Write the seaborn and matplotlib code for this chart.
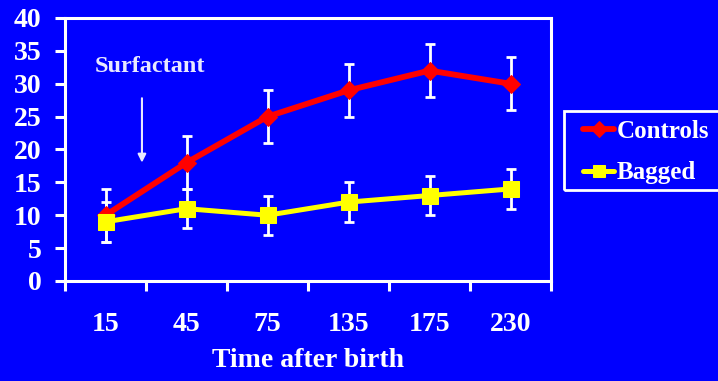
import matplotlib
matplotlib.use("Agg")
import matplotlib.pyplot as plt
from matplotlib.patches import Rectangle
import seaborn as sns
import pandas as pd
import numpy as np

# Data
times = ["15", "45", "75", "135", "175", "230"]
controls = [10, 18, 25, 29, 32, 30]
controls_err = [4, 4, 4, 4, 4, 4]
bagged = [9, 11, 10, 12, 13, 14]
bagged_err = [3, 3, 3, 3, 3, 3]
y_ticks = [0, 5, 10, 15, 20, 25, 30, 35, 40]

BLUE = "#0000ff"
WHITE = "#ffffff"
RED = "#ff0000"
YELLOW = "#ffff00"
PALE = "#e8e8ff"

sns.set_style("ticks")
plt.rcParams["font.family"] = ["Liberation Serif", "DejaVu Serif"]
plt.rcParams["font.weight"] = "bold"

W, H = 718, 381
fig = plt.figure(figsize=(W / 100, H / 100), dpi=100, facecolor=BLUE)
ax = fig.add_axes([65 / W, 1 - 281 / H, (551 - 65) / W, (281 - 18) / H])
ax.set_facecolor(BLUE)

idx = np.arange(len(times))
df = pd.DataFrame({
    "pos": np.concatenate([idx, idx]),
    "value": controls + bagged,
    "group": ["Controls"] * len(times) + ["Bagged"] * len(times),
})

# Error bars underneath the series lines
ax.errorbar(idx, controls, yerr=controls_err, fmt="none", ecolor=WHITE,
            elinewidth=2.0, capsize=3.5, capthick=2.0, zorder=1)
ax.errorbar(idx, bagged, yerr=bagged_err, fmt="none", ecolor=WHITE,
            elinewidth=2.0, capsize=3.5, capthick=2.0, zorder=1)

sns.lineplot(data=df[df.group == "Controls"], x="pos", y="value", ax=ax,
             color=RED, linewidth=4.2, marker="D", markersize=9,
             markeredgecolor=RED, label="Controls", zorder=2)
sns.lineplot(data=df[df.group == "Bagged"], x="pos", y="value", ax=ax,
             color=YELLOW, linewidth=3.6, marker="s", markersize=11,
             markeredgecolor=YELLOW, label="Bagged", zorder=3)

ax.set_xlim(-0.5, len(times) - 0.5)
ax.set_ylim(0, 40)
ax.set_yticks(y_ticks)
ax.set_yticklabels([str(v) for v in y_ticks])
ax.set_xticks(idx)
ax.set_xticklabels(times)
ax.set_xticks(np.arange(-0.5, len(times)), minor=True)

for s in ax.spines.values():
    s.set_color(WHITE)
    s.set_linewidth(2.2)

ax.tick_params(axis="y", which="major", colors=WHITE, length=7, width=2.2,
               labelsize=20, pad=10, direction="out")
ax.tick_params(axis="x", which="major", length=0, labelsize=20, pad=22,
               labelcolor=WHITE)
ax.tick_params(axis="x", which="minor", colors=WHITE, length=7, width=2.2,
               direction="out")
for lab in ax.get_xticklabels() + ax.get_yticklabels():
    lab.set_fontweight("bold")

ax.set_xlabel("Time after birth", color=WHITE, fontsize=20, fontweight="bold",
              labelpad=8)
ax.set_ylabel("")

# Surfactant annotation
ax.text(0.55, 32.6, "Surfactant", color=PALE, fontsize=17.5,
        fontweight="bold", ha="center", va="center")
ax.annotate("", xy=(0.45, 18.0), xytext=(0.45, 27.8),
            arrowprops=dict(arrowstyle="-|>", color=PALE, lw=1.5,
                            mutation_scale=12, shrinkA=0, shrinkB=0))

# Legend box, running off the right edge of the figure
fig.patches.append(Rectangle((564 / W, 1 - 190 / H), 0.3, 79 / H,
                             transform=fig.transFigure, fill=False,
                             edgecolor=WHITE, linewidth=2.0, zorder=5))

ax.get_legend().remove()
handles, labels = ax.get_legend_handles_labels()
leg = fig.legend(handles, labels, loc="upper left",
                 bbox_to_anchor=(583 / W, 1 - 120 / H),
                 frameon=False, fontsize=18, markerscale=0.85,
                 handlelength=1.25, handletextpad=0.1, borderpad=0,
                 labelspacing=0.74, borderaxespad=0)
for t in leg.get_texts():
    t.set_color(WHITE)
    t.set_fontweight("bold")

fig.savefig("out.png", dpi=100, facecolor=BLUE)
